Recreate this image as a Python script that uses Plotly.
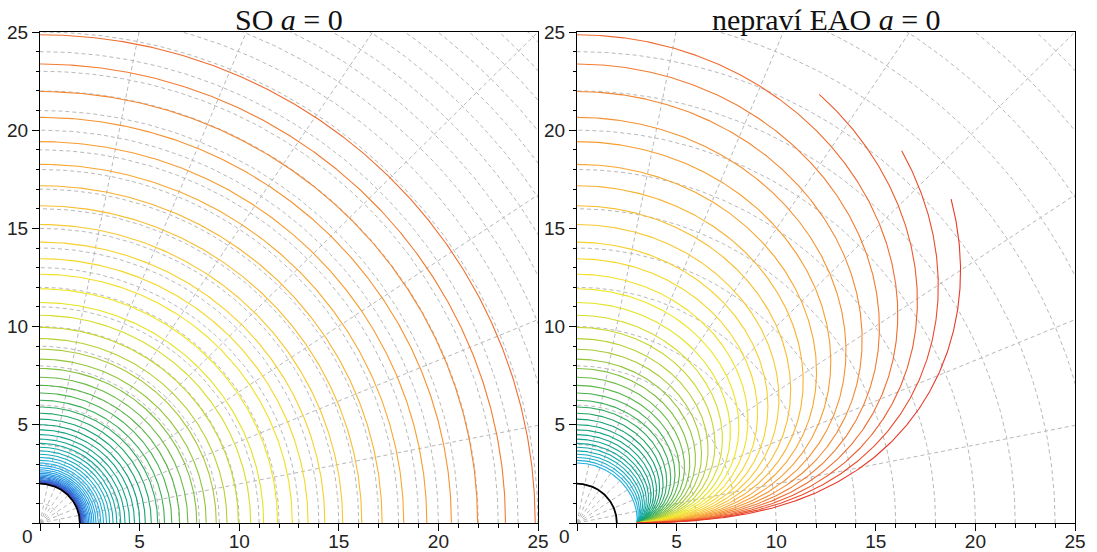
import numpy as np
import plotly.graph_objects as go
from plotly.colors import sample_colorscale

# ---------------- data ----------------
# radii of the static-observer acceleration contours (axis crossings), in M
shell_radii = [2.018, 2.023, 2.029, 2.037, 2.047, 2.060, 2.075, 2.094, 2.118, 2.146,
               2.179, 2.218, 2.265, 2.318, 2.379, 2.448, 2.525, 2.612, 2.707, 2.812,
               2.928, 3.053, 3.190, 3.338, 3.498, 3.670, 3.856, 4.055, 4.269, 4.498,
               4.744, 5.006, 5.287, 5.588, 5.909, 6.251, 6.617, 7.008, 7.424, 7.869,
               8.343, 8.849, 9.388, 9.962, 10.575, 11.228, 11.925, 12.667, 13.457, 14.300,
               15.198, 16.155, 17.175, 18.262, 19.419, 20.653, 21.968, 23.368, 24.860, 26.450,
               28.144, 29.949]
horizon_radius = 2.0
domain_radius = 25.0
tick_values = [0, 5, 10, 15, 20, 25]
tick_labels = ["", "5", "10", "15", "20", "25"]
left_grid_radii = list(range(1, 36, 1))
right_grid_radii = list(range(2, 36, 2))
grid_angles_deg = [11.25, 22.5, 33.75, 45.0, 56.25, 67.5, 78.75]
titles = ["SO <i>a</i> = 0", "nepraví EAO <i>a</i> = 0"]

colorscale = [
    [0.00, "#5a2890"], [0.10, "#4a48b8"], [0.18, "#2f72d8"], [0.27, "#1f9ce6"],
    [0.35, "#22b0e2"], [0.43, "#10a8a0"], [0.52, "#10a070"], [0.60, "#50b448"],
    [0.68, "#b0cc34"], [0.75, "#f0e81c"], [0.82, "#f8c830"], [0.88, "#f8a030"],
    [0.94, "#f07832"], [1.00, "#e83a2a"],
]

# ---------------- helpers ----------------
def g_static(r):
    return 1.0 / (r**2 * np.sqrt(1.0 - 2.0 / r))

def a_improper(r, th):
    # magnitude of acceleration of the non-static extremally accelerated observer
    g = g_static(r)
    A = np.sqrt(1.0 - 2.0 / r) / r
    B = (np.cos(th) / np.sin(th)) / r
    return g * B / np.sqrt((A - g) ** 2 + B ** 2)

n = len(shell_radii)
colors = sample_colorscale(colorscale, [k / (n - 1) for k in range(n)])

fig = go.Figure()
xa = ["x", "x2"]
ya = ["y", "y2"]

# grid
def add_grid(panel, radii):
    phi = np.linspace(0, np.pi / 2, 200)
    gx, gy = [], []
    for rr in radii:
        gx += list(rr * np.cos(phi)) + [None]
        gy += list(rr * np.sin(phi)) + [None]
    for ang in grid_angles_deg:
        t = np.radians(ang)
        gx += [0, 40 * np.cos(t), None]
        gy += [0, 40 * np.sin(t), None]
    fig.add_trace(go.Scatter(x=gx, y=gy, mode="lines", xaxis=xa[panel], yaxis=ya[panel],
                             line=dict(color="#b8b8b8", width=1, dash="4px,3px"),
                             hoverinfo="skip", showlegend=False))

add_grid(0, left_grid_radii)
add_grid(1, right_grid_radii)

# left panel: static observer contours (circles)
phi = np.linspace(0, np.pi / 2, 300)
for k, R in enumerate(shell_radii):
    if R > domain_radius:
        continue
    fig.add_trace(go.Scatter(x=R * np.cos(phi), y=R * np.sin(phi), mode="lines",
                             line=dict(color=colors[k], width=1.1),
                             hoverinfo="skip", showlegend=False))

# right panel: improper EAO contours at the same levels
th = np.concatenate([np.linspace(1e-4, 1.3, 400),
                     np.pi / 2 - np.geomspace(np.pi / 2 - 1.3 - 1e-3, 1e-6, 600)])
for k, R in enumerate(shell_radii):
    if R <= 3.0:
        continue
    level = g_static(R)
    lo = np.full_like(th, 3.0 + 1e-9)
    hi = np.full_like(th, 400.0)
    for _ in range(80):
        mid = 0.5 * (lo + hi)
        big = a_improper(mid, th) > level
        lo = np.where(big, mid, lo)
        hi = np.where(big, hi, mid)
    r = 0.5 * (lo + hi)
    x = r * np.sin(th)
    y = r * np.cos(th)
    keep = r <= domain_radius
    xs = np.where(keep, x, np.nan)
    ys = np.where(keep, y, np.nan)
    fig.add_trace(go.Scatter(x=xs, y=ys, mode="lines", xaxis="x2", yaxis="y2",
                             line=dict(color=colors[k], width=1.1), connectgaps=False,
                             hoverinfo="skip", showlegend=False))

# horizon
for p in range(2):
    fig.add_trace(go.Scatter(x=horizon_radius * np.cos(phi), y=horizon_radius * np.sin(phi),
                             mode="lines", xaxis=xa[p], yaxis=ya[p],
                             line=dict(color="black", width=1.8),
                             hoverinfo="skip", showlegend=False))

axis_common = dict(range=[0, 25], showgrid=False, zeroline=False, showline=True,
                   linecolor="black", linewidth=1, mirror=True, ticks="outside",
                   ticklen=7, tickwidth=1, tickcolor="black", automargin=False,
                   tickvals=tick_values, ticktext=tick_labels,
                   tickfont=dict(family="Liberation Sans, Arial, sans-serif", size=19, color="#222"),
                   minor=dict(dtick=1, ticks="outside", ticklen=3.5, tickcolor="black", showgrid=False))
xonly = dict(ticklabelstandoff=-6)

d1 = (538 - 40) / 1035
d2 = (577 - 40) / 1035
fig.update_layout(
    width=1097, height=552,
    margin=dict(l=40, r=22, t=32, b=29, autoexpand=False),
    paper_bgcolor="white", plot_bgcolor="white",
    xaxis=dict(domain=[0, d1], anchor="y", **axis_common, **xonly),
    yaxis=dict(domain=[0, 1], anchor="x", **axis_common),
    xaxis2=dict(domain=[d2, 1], anchor="y2", **axis_common, **xonly),
    yaxis2=dict(domain=[0, 1], anchor="x2", **axis_common),
    showlegend=False,
)

for p, ttl in enumerate(titles):
    fig.add_annotation(text=ttl, x=0.5, y=1.0, xref=f"{xa[p]} domain", yref="paper",
                       yanchor="bottom", yshift=-5, showarrow=False, borderpad=0,
                       font=dict(family="Liberation Serif, DejaVu Serif, serif", size=30, color="#111"))
    fig.add_annotation(text="0", x=0, y=0, xref=xa[p], yref=ya[p], showarrow=False,
                       xshift=-13, yshift=-13,
                       font=dict(family="Liberation Sans, Arial, sans-serif", size=19, color="#222"))

fig.write_html("out.html")
